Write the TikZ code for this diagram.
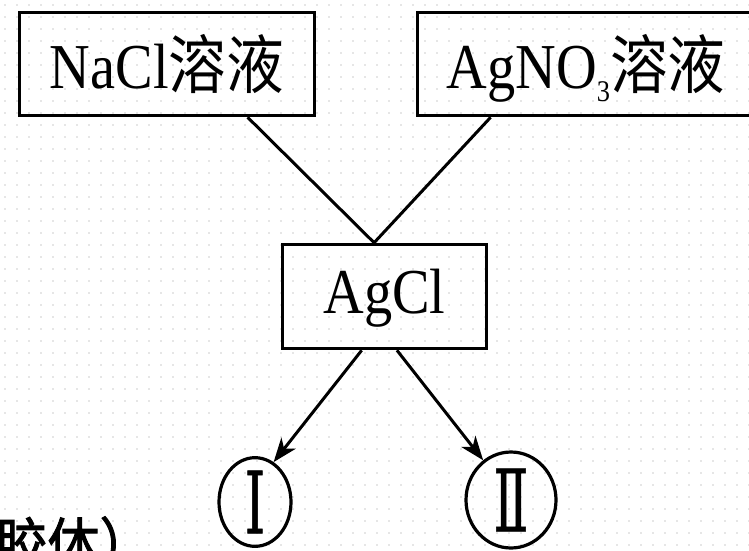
\documentclass[tikz,border=0pt]{standalone}
\usepackage{fontspec}
\setmainfont{Liberation Serif}[FakeStretch=0.88]
\newfontfamily\cjk{Noto Sans CJK SC}[FakeStretch=0.9]
\newfontfamily\cjkbold{Noto Sans CJK SC}[FakeStretch=0.9, FakeBold=1.6]
\newfontfamily\romanno{DejaVu Serif}[FakeStretch=0.6, FakeBold=0.6]
\usepackage{tikz}
\usetikzlibrary{arrows.meta, positioning, calc, shapes.geometric}

\begin{document}
\begin{tikzpicture}[
            x=1pt, y=-1pt,
            >={Stealth[length=24pt, width=18pt, inset=7pt]},
            % ---- 预定义样式 ----
            box/.style = {draw, rectangle, line width=3.6pt, inner sep=0pt,
                          text height=56pt, text depth=8pt, font=\fontsize{64}{70}\selectfont},
            num/.style = {draw, ellipse, line width=3.2pt, inner sep=0pt,
                          font=\romanno\fontsize{86}{86}\selectfont},
            link/.style = {line width=3pt},
            dotgrid/.style = {fill=gray!40}
        ]

        % 画面范围（右侧与下方被截断）
        \clip (0,0) rectangle (749,550);

        % 背景点阵
        \foreach \i in {0,...,62}
            \foreach \j in {0,...,45}
                \fill[dotgrid] (5+12*\i, 5+12*\j) circle (0.9);

        % ===================== 上方两个溶液 =====================
        \node[box, minimum width=295, minimum height=103] (nacl) at (167,64) {NaCl{\cjk 溶液}};
        \node[box, minimum width=337, minimum height=103] (agno) at (586,64)
            {AgNO\raisebox{-13pt}{\fontsize{30}{30}\selectfont 3}{\cjk 溶液}};

        % ===================== 中间 AgCl =====================
        \node[box, text height=42pt, text depth=9pt, minimum width=204, minimum height=104] (agcl) at (384.5,296.5) {AgCl};

        % ===================== 下方两个编号 =====================
        \node[num, minimum width=72, minimum height=80] (c1) at (255,502) {Ⅰ};
        \node[num, minimum width=90, minimum height=96] (c2) at (511,500) {Ⅱ};

        % 左下角被截断的文字
        \node[anchor=base west, inner sep=0pt, font={\cjkbold\fontsize{58}{60}\selectfont}] (colloid) at (-5,566) {胶体）};

        % ---- 连线 ----
        \coordinate (meet) at ($(agcl.north west)!0.45!(agcl.north east)$);
        \draw[link] ($(nacl.south west)!0.77!(nacl.south east)$) -- (meet);
        \draw[link] ($(agno.south west)!0.22!(agno.south east)$) -- (meet);
        \draw[link, ->] ($(agcl.south west)!0.39!(agcl.south east)$) -- (c1.65);
        \draw[link, ->] ($(agcl.south west)!0.56!(agcl.south east)$) -- (c2.125);

        \end{tikzpicture}
\end{document}
